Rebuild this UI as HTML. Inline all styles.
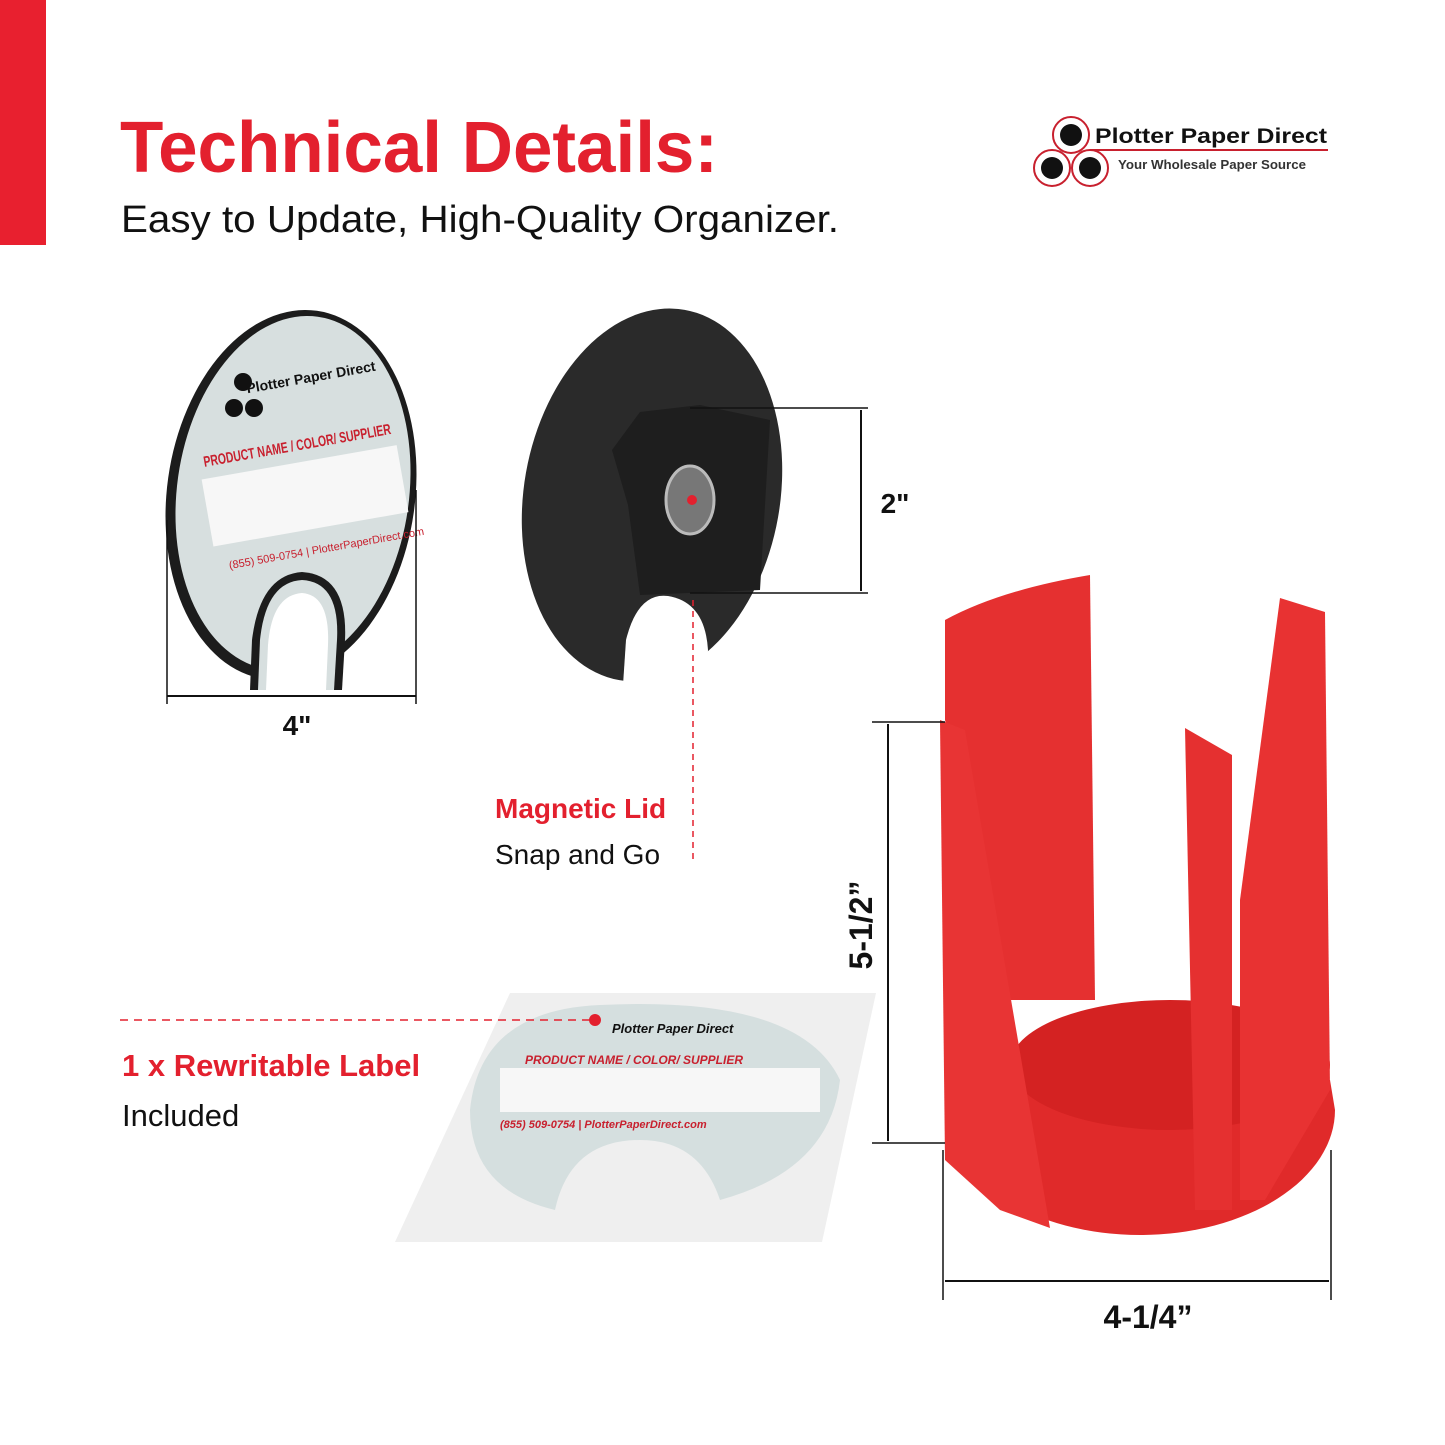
<!DOCTYPE html>
<html><head><meta charset="utf-8"><style>
html,body{margin:0;padding:0;background:#fff;}
svg{display:block;}
text{font-family:"Liberation Sans",sans-serif;}
</style></head><body>
<svg width="1445" height="1445" viewBox="0 0 1445 1445" xmlns="http://www.w3.org/2000/svg">
<rect x="0" y="0" width="46" height="245" fill="#e8202f"/>
<text x="120" y="172" font-size="72" font-weight="bold" fill="#e3202e" textLength="598" lengthAdjust="spacingAndGlyphs">Technical Details:</text>
<text x="121" y="232" font-size="38" fill="#111" textLength="718" lengthAdjust="spacingAndGlyphs">Easy to Update, High-Quality Organizer.</text>

<!-- logo -->
<g>
<circle cx="1071" cy="135" r="18" fill="#fff" stroke="#c8202e" stroke-width="2"/><circle cx="1071" cy="135" r="11" fill="#111"/>
<circle cx="1052" cy="168" r="18" fill="#fff" stroke="#c8202e" stroke-width="2"/><circle cx="1052" cy="168" r="11" fill="#111"/>
<circle cx="1090" cy="168" r="18" fill="#fff" stroke="#c8202e" stroke-width="2"/><circle cx="1090" cy="168" r="11" fill="#111"/>
<text x="1095" y="143" font-size="21" font-weight="bold" fill="#111" textLength="232" lengthAdjust="spacingAndGlyphs">Plotter Paper Direct</text>
<line x1="1090" y1="150" x2="1328" y2="150" stroke="#c8202e" stroke-width="2"/>
<text x="1118" y="169" font-size="13" font-weight="bold" fill="#333" textLength="188" lengthAdjust="spacingAndGlyphs">Your Wholesale Paper Source</text>
</g>

<!-- label disc -->
<ellipse cx="291" cy="495" rx="124" ry="186" transform="rotate(8 291 495)" fill="#1c1c1c"/>
<ellipse cx="293" cy="493" rx="116" ry="178" transform="rotate(8 293 493)" fill="#d7dfdf"/>
<path d="M250 690 L252 640 Q260 575 302 572 Q348 575 345 640 L342 690 Z" fill="#1c1c1c"/>
<path d="M258 690 L260 640 Q266 582 302 580 Q340 582 337 640 L334 690 Z" fill="#d7dfdf"/>
<path d="M266 690 L268 645 Q272 595 302 593 Q330 595 328 645 L326 690 Z" fill="#fff"/>
<g transform="rotate(-10 300 450)">
<text x="203" y="450" font-size="15" font-weight="bold" fill="#c8202e" textLength="190" lengthAdjust="spacingAndGlyphs">PRODUCT NAME / COLOR/ SUPPLIER</text>
<rect x="198" y="462" width="198" height="68" fill="#f7f7f7"/>
<text x="258" y="385" font-size="14" font-weight="bold" fill="#111">Plotter Paper Direct</text>
<text x="210" y="555" font-size="11" fill="#c8202e">(855) 509-0754 | PlotterPaperDirect.com</text>
</g>
<circle cx="243" cy="382" r="9" fill="#111"/><circle cx="234" cy="408" r="9" fill="#111"/><circle cx="254" cy="408" r="9" fill="#111"/>
<line x1="167" y1="696" x2="416" y2="696" stroke="#111" stroke-width="2"/>
<line x1="167" y1="520" x2="167" y2="704" stroke="#111" stroke-width="1.5"/>
<line x1="416" y1="490" x2="416" y2="704" stroke="#111" stroke-width="1.5"/>
<text x="297" y="735" font-size="28" font-weight="bold" text-anchor="middle" fill="#111">4"</text>

<!-- lid -->
<ellipse cx="652" cy="495" rx="128" ry="188" transform="rotate(10 652 495)" fill="#2a2a2a"/>
<path d="M622 700 L626 640 Q638 592 668 596 Q705 602 708 650 L705 700 Z" fill="#fff"/>
<path d="M640 412 L700 405 L770 420 L760 590 L640 595 L628 505 L612 450 Z" fill="#1e1e1e"/>
<ellipse cx="690" cy="500" rx="24" ry="34" fill="#777" stroke="#bbb" stroke-width="3"/>
<circle cx="692" cy="500" r="5" fill="#e3202e"/>
<line x1="690" y1="408" x2="868" y2="408" stroke="#111" stroke-width="1.5"/>
<line x1="690" y1="593" x2="868" y2="593" stroke="#111" stroke-width="1.5"/>
<line x1="861" y1="410" x2="861" y2="591" stroke="#111" stroke-width="2"/>
<text x="895" y="513" font-size="28" font-weight="bold" text-anchor="middle" fill="#111">2"</text>
<line x1="693" y1="600" x2="693" y2="860" stroke="#e3202e" stroke-width="1.5" stroke-dasharray="6,5"/>
<text x="495" y="818" font-size="28" font-weight="bold" fill="#e3202e">Magnetic Lid</text>
<text x="495" y="864" font-size="28" fill="#111">Snap and Go</text>

<!-- red holder -->
<path d="M945 1110 A195 125 0 0 0 1335 1110 L1330 1080 L945 1080 Z" fill="#e02a2a"/>
<ellipse cx="1170" cy="1065" rx="160" ry="65" fill="#d42222"/>
<path d="M945 620 Q1000 590 1090 575 L1095 1000 L1010 1000 L945 720 Z" fill="#e53030"/>
<path d="M940 720 L965 730 L1050 1228 L1000 1210 L945 1160 Z" fill="#e83434"/>
<path d="M1185 728 L1232 755 L1232 1210 L1195 1210 Z" fill="#e53030"/>
<path d="M1280 598 L1325 612 L1330 1090 L1265 1200 L1240 1200 L1240 900 Z" fill="#e83232"/>
<line x1="872" y1="722" x2="945" y2="722" stroke="#111" stroke-width="1.5"/>
<line x1="872" y1="1143" x2="945" y2="1143" stroke="#111" stroke-width="1.5"/>
<line x1="888" y1="724" x2="888" y2="1141" stroke="#111" stroke-width="2"/>
<text transform="translate(872 925) rotate(-90)" font-size="32" font-weight="bold" text-anchor="middle" fill="#111">5-1/2”</text>
<line x1="943" y1="1150" x2="943" y2="1300" stroke="#111" stroke-width="1.5"/>
<line x1="1331" y1="1150" x2="1331" y2="1300" stroke="#111" stroke-width="1.5"/>
<line x1="945" y1="1281" x2="1329" y2="1281" stroke="#111" stroke-width="2"/>
<text x="1148" y="1328" font-size="32" font-weight="bold" text-anchor="middle" fill="#111">4-1/4”</text>

<!-- sheet -->
<path d="M510 993 L876 993 L822 1242 L395 1242 Z" fill="#efefef"/>
<path d="M600 1005 Q800 995 840 1080 Q830 1170 720 1200 Q700 1140 640 1140 Q570 1140 555 1210 Q470 1190 470 1110 Q480 1010 600 1005 Z" fill="#d5dfdf"/>
<rect x="500" y="1068" width="320" height="44" fill="#f7f7f7"/>
<text x="612" y="1033" font-size="13" font-weight="bold" font-style="italic" fill="#111">Plotter Paper Direct</text>
<text x="525" y="1064" font-size="12" font-weight="bold" font-style="italic" fill="#c8202e">PRODUCT NAME / COLOR/ SUPPLIER</text>
<text x="500" y="1128" font-size="11" font-weight="bold" font-style="italic" fill="#c8202e">(855) 509-0754 | PlotterPaperDirect.com</text>
<line x1="120" y1="1020" x2="595" y2="1020" stroke="#e3202e" stroke-width="1.5" stroke-dasharray="8,6"/>
<circle cx="595" cy="1020" r="6" fill="#e3202e"/>
<text x="122" y="1076" font-size="31" font-weight="bold" fill="#e3202e">1 x Rewritable Label</text>
<text x="122" y="1126" font-size="31" fill="#111">Included</text>
</svg>
</body></html>
